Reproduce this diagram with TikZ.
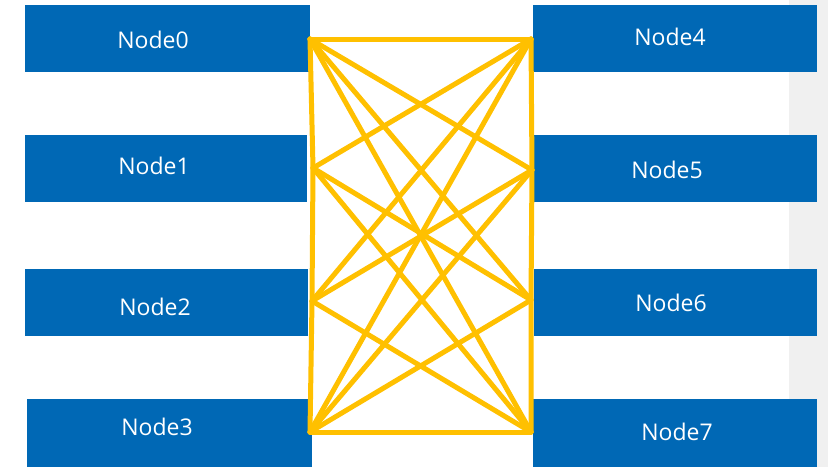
\documentclass[tikz,border=0pt]{standalone}
\usepackage{fontspec}
\setmainfont{Open Sans}
\definecolor{nodeblue}{RGB}{0,104,181}
\definecolor{linkyellow}{RGB}{255,192,0}
\definecolor{stripgray}{RGB}{240,240,240}
\begin{document}
\begin{tikzpicture}[x=1pt,y=-1pt,
  box/.style={fill=nodeblue,draw=none,inner sep=0pt,anchor=north west},
  lbl/.style={text=white,font=\fontsize{23}{27}\selectfont,inner sep=0pt},
  link/.style={draw=linkyellow,line width=5pt,line cap=round,line join=round}]
\useasboundingbox (0,0) rectangle (828,467);
\fill[white] (0,0) rectangle (828,467);
\fill[stripgray] (789,0) rectangle (828,467);
% left boxes
\node[box,minimum width=285pt,minimum height=67pt] (n0) at (25,5) {};
\node[box,minimum width=282pt,minimum height=67pt] (n1) at (25,135) {};
\node[box,minimum width=283pt,minimum height=67pt] (n2) at (25,269) {};
\node[box,minimum width=285pt,minimum height=68pt] (n3) at (27,399) {};
% right boxes
\node[box,minimum width=284pt,minimum height=67pt] (n4) at (533,5) {};
\node[box,minimum width=284pt,minimum height=67pt] (n5) at (533,135) {};
\node[box,minimum width=283pt,minimum height=67pt] (n6) at (534,269) {};
\node[box,minimum width=284pt,minimum height=68pt] (n7) at (533,399) {};
% labels
\node[lbl] (t0) at (153,40) {Node0};
\node[lbl] (t1) at (154,166) {Node1};
\node[lbl] (t2) at (155,307) {Node2};
\node[lbl] (t3) at (157,427) {Node3};
\node[lbl] (t4) at (670,37) {Node4};
\node[lbl] (t5) at (667,170) {Node5};
\node[lbl] (t6) at (671,303) {Node6};
\node[lbl] (t7) at (677,432) {Node7};
% connector ends
\coordinate (a0) at (310,39);
\coordinate (a1) at (313,168);
\coordinate (a2) at (312,301);
\coordinate (a3) at (310,432);
\coordinate (b0) at (531,39);
\coordinate (b1) at (532,170);
\coordinate (b2) at (531,300);
\coordinate (b3) at (531,432);
% vertical links
\draw[link] (a0) -- (a1) -- (a2) -- (a3);
\draw[link] (b0) -- (b1) -- (b2) -- (b3);
% links between the two columns (no straight links 1-5 and 2-6)
\foreach \i/\j in {0/0,0/1,0/2,0/3,1/0,1/2,1/3,2/0,2/1,2/3,3/0,3/1,3/2,3/3}{
  \draw[link] (a\i) -- (b\j);
}
\end{tikzpicture}
\end{document}
